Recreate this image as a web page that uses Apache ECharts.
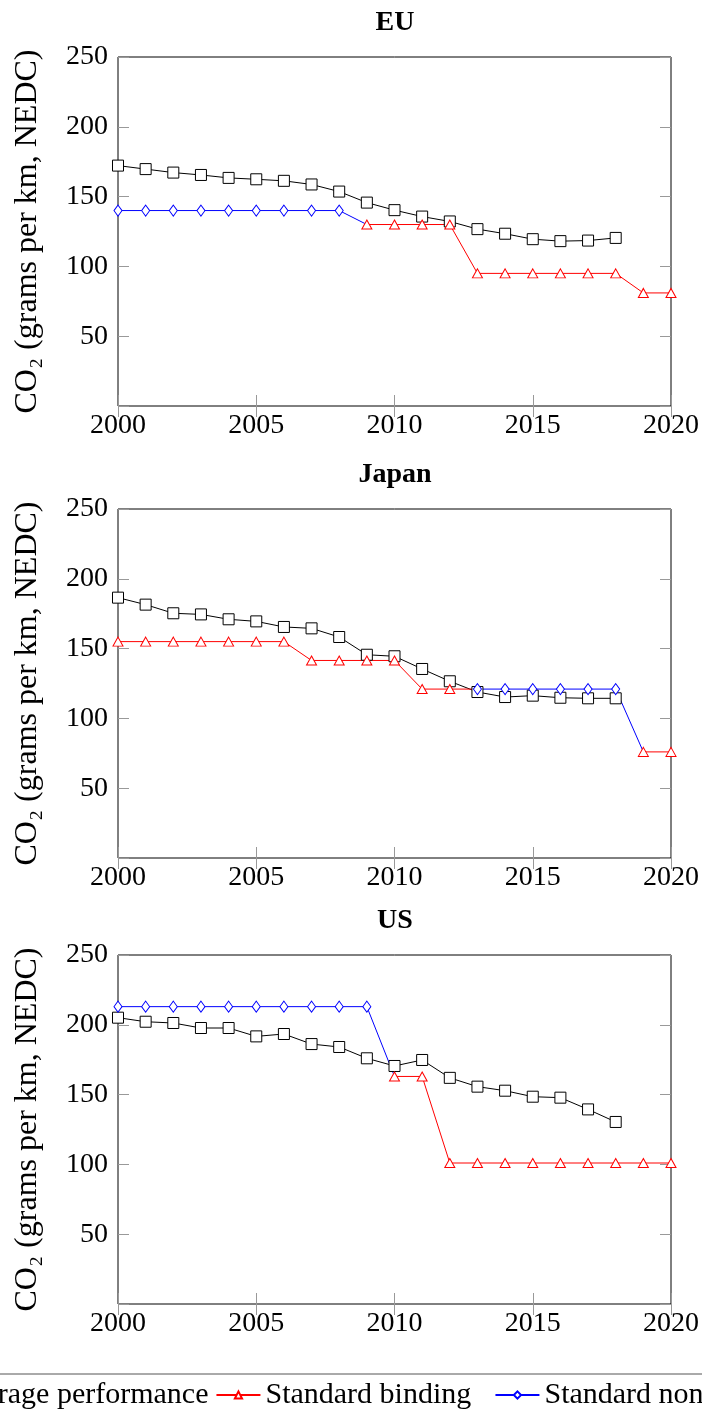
<!DOCTYPE html>
<html>
<head>
<meta charset="utf-8">
<script src="https://cdn.jsdelivr.net/npm/echarts@6/dist/echarts.min.js"></script>
<style>html,body{margin:0;padding:0;background:#fff}#c{width:702px;height:1418px}</style>
</head>
<body>
<div id="c"></div>
<script>
// ---- data ----
const years = [2000,2001,2002,2003,2004,2005,2006,2007,2008,2009,2010,2011,2012,2013,2014,2015,2016,2017,2018,2019,2020];
const regions = ['EU', 'Japan', 'US'];
const seriesNames = ['Average performance', 'Standard binding', 'Standard non-binding'];
const xTicks = [2000, 2005, 2010, 2015, 2020];
const yTicks = [0, 50, 100, 150, 200, 250];

const euAvg        = [172.2,169.7,167.2,165.5,163.4,162.4,161.3,158.7,153.6,145.7,140.3,135.7,132.2,126.7,123.4,119.5,118.1,118.5,120.4,null,null];
const euBinding    = [null,null,null,null,null,null,null,null,null,130,130,130,130,95,95,95,95,95,95,81,81];
const euNonBinding = [140,140,140,140,140,140,140,140,140,130,null,null,null,null,null,null,null,null,null,null,null];

const jpAvg        = [186.5,181.5,175.3,174.5,171,169.5,165.5,164.5,158.3,145.6,144.5,135.4,126.6,118.9,115.3,116.3,114.8,114.4,114.4,null,null];
const jpBinding    = [155,155,155,155,155,155,155,141.5,141.5,141.5,141.5,121,121,121,null,null,null,null,null,76,76];
const jpNonBinding = [null,null,null,null,null,null,null,null,null,null,null,null,null,121,121,121,121,121,121,76,null];

const usAvg        = [205.1,202.2,201.3,197.7,197.7,191.7,193.4,186.2,184.1,176,170.5,174.8,162,155.7,152.8,148.5,147.8,139.4,130.4,null,null];
const usBinding    = [null,null,null,null,null,null,null,null,null,null,163,163,101,101,101,101,101,101,101,101,101];
const usNonBinding = [213,213,213,213,213,213,213,213,213,213,163,null,null,null,null,null,null,null,null,null,null];

// indices of joining points drawn without a marker
const euBindingLink = [], euNonBindingLink = [9];
const jpBindingLink = [13], jpNonBindingLink = [19];
const usBindingLink = [], usNonBindingLink = [10];

const regionData = [
  [euAvg, euBinding, euNonBinding, [], euBindingLink, euNonBindingLink],
  [jpAvg, jpBinding, jpNonBinding, [], jpBindingLink, jpNonBindingLink],
  [usAvg, usBinding, usNonBinding, [], usBindingLink, usNonBindingLink]
];

// ---- layout / style ----
const FONT = '"Liberation Serif", "Times New Roman", serif';
const gridTops = [57, 509, 955];
const gridH = 349;
const gridLeft = 118, gridW = 554;

function build(vals, links) {
  return years.map((y, i) => {
    const v = vals[i];
    if (v === null || v === undefined) return [y, '-'];
    if (links.indexOf(i) >= 0) return { value: [y, v], symbol: 'none' };
    return [y, v];
  });
}

const styles = [
  { symbol: 'rect', symbolSize: 11, color: '#000000' },
  { symbol: 'triangle', symbolSize: [10, 9], color: '#ff0000' },
  { symbol: 'diamond', symbolSize: [8, 11], color: '#0000ff' }
];

const grid = [], xAxis = [], yAxis = [], series = [], title = [];
regions.forEach((r, gi) => {
  grid.push({ left: gridLeft, top: gridTops[gi], width: gridW, height: gridH,
    show: true, borderColor: '#000', borderWidth: 1, backgroundColor: 'transparent' });
  title.push({ text: r, left: gridLeft + gridW / 2, textAlign: 'center', top: gridTops[gi] - 48, padding: 0,
    textStyle: { fontFamily: FONT, fontSize: 28, fontWeight: 'bold', color: '#000', lineHeight: 28 } });
  const tickStyle = { show: true, inside: true, length: 11, lineStyle: { color: '#999', width: 1 } };
  const xBase = { type: 'value', gridIndex: gi, min: xTicks[0], max: xTicks[xTicks.length - 1],
    interval: xTicks[1] - xTicks[0], axisLine: { show: false }, splitLine: { show: false }, axisTick: tickStyle };
  xAxis.push(Object.assign({}, xBase, { position: 'bottom',
    axisLabel: { fontFamily: FONT, fontSize: 28, color: '#000', margin: 6, lineHeight: 28, formatter: v => String(v) } }));
  xAxis.push(Object.assign({}, xBase, { position: 'top', axisLabel: { show: false } }));
  const yBase = { type: 'value', gridIndex: gi, min: yTicks[0], max: yTicks[yTicks.length - 1],
    interval: yTicks[1] - yTicks[0], axisLine: { show: false }, splitLine: { show: false }, axisTick: tickStyle };
  yAxis.push(Object.assign({}, yBase, { position: 'left',
    name: 'CO₂ (grams per km, NEDC)', nameLocation: 'middle', nameGap: 74, nameRotate: 90,
    nameTextStyle: { fontFamily: FONT, fontSize: 32, color: '#000' },
    axisLabel: { fontFamily: FONT, fontSize: 28, color: '#000', margin: 10, formatter: v => (v === 0 ? '' : String(v)) } }));
  yAxis.push(Object.assign({}, yBase, { position: 'right', axisLabel: { show: false } }));

  const d = regionData[gi];
  for (let k = 0; k < 3; k++) {
    const st = styles[k];
    series.push({
      type: 'line', name: seriesNames[k], xAxisIndex: gi * 2, yAxisIndex: gi * 2,
      data: build(d[k], d[k + 3]), symbol: st.symbol, symbolSize: st.symbolSize, showAllSymbol: true,
      lineStyle: { color: st.color, width: 1 },
      itemStyle: { color: '#ffffff', borderColor: st.color, borderWidth: 1 },
      emphasis: { disabled: true }, silent: true, animation: false, connectNulls: false
    });
  }
});

const richBase = { fontFamily: FONT, fontSize: 30, color: '#000', lineHeight: 30 };

const chart = echarts.init(document.getElementById('c'), null, { renderer: 'canvas' });
chart.setOption({
  backgroundColor: '#fff',
  animation: false,
  title, grid, xAxis, yAxis, series,
  legend: {
    data: seriesNames,
    formatter: name => '{w' + seriesNames.indexOf(name) + '|' + name + '}',
    left: -110, top: 1374, width: 1400, orient: 'horizontal',
    padding: [6, 10, 30, 10], itemWidth: 44, itemHeight: 9, itemGap: 7,
    borderColor: '#555', borderWidth: 1, selectedMode: false,
    textStyle: {
      fontFamily: FONT, fontSize: 30, color: '#000',
      rich: {
        w0: Object.assign({}, richBase),
        w1: Object.assign({ width: 222, backgroundColor: 'rgba(255,255,255,0)' }, richBase),
        w2: Object.assign({}, richBase)
      }
    }
  }
});
</script>
</body>
</html>
